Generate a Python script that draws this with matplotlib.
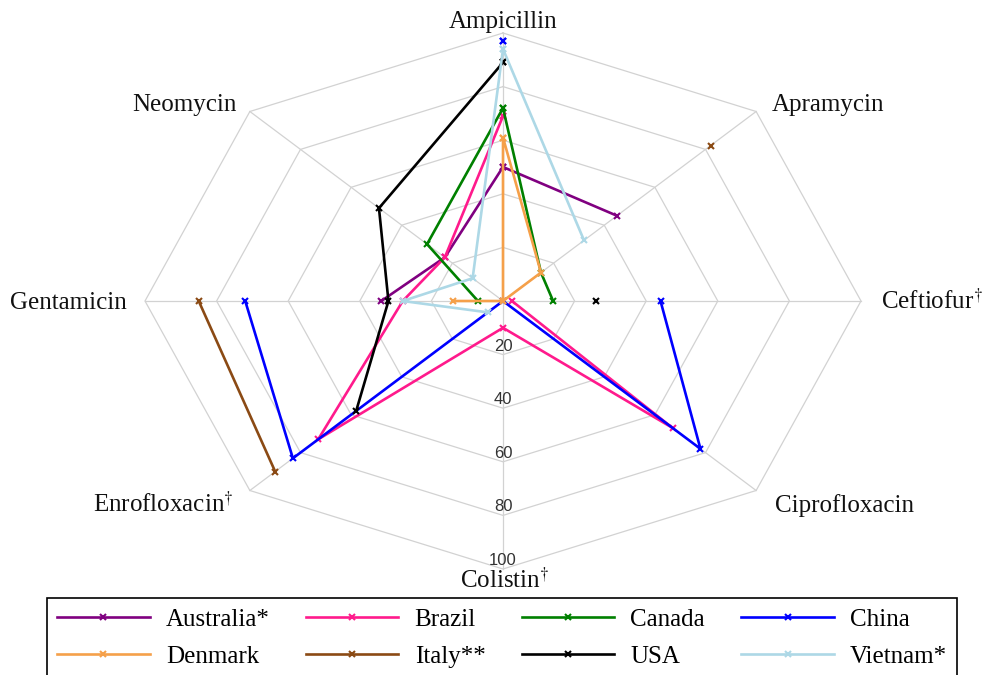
import numpy as np
import matplotlib.pyplot as plt

plt.rcParams['mathtext.fontset'] = 'stix'

# antibiotics, clockwise from the top
drugs = ["Ampicillin", "Apramycin", "Ceftiofur", "Ciprofloxacin",
         "Colistin", "Enrofloxacin", "Gentamicin", "Neomycin"]
dagger = [False, False, True, False, True, True, False, False]

nan = np.nan
australia = [50, 45, nan, nan, nan, nan, 34, 23]
brazil = [69, nan, 2.5, 67, 10, 73, 28, 23]
canada = [72, 15, 14, nan, nan, nan, 7, 30]
china = [97, nan, 44, 78, 0, 83, 72, nan]
denmark = [61, 15, 0, nan, nan, nan, 14, 0]
italy = [nan, 82, nan, nan, nan, 90, 85, nan]
usa = [89, nan, 26, nan, nan, 58, 32, 49]
vietnam = [94, 32, nan, nan, nan, 6, 28, 12]

countries = ["Australia*", "Brazil", "Canada", "China",
             "Denmark", "Italy**", "USA", "Vietnam*"]
values = [australia, brazil, canada, china, denmark, italy, usa, vietnam]
colors = ["#800080", "#ff1a8c", "#008000", "#0000ff",
          "#f5a04a", "#8b4a14", "#000000", "#add8e6"]

rings = [20, 40, 60, 80, 100]

ang = np.radians(np.arange(len(drugs)) * 360 / len(drugs))
ang_c = np.append(ang, ang[0])


def to_xy(r, a):
    r = np.asarray(r, dtype=float)
    return r * np.sin(a), r * np.cos(a)


fig = plt.figure(figsize=(9.82, 6.75), dpi=100)
ax = fig.add_axes([145 / 982, 106 / 675, 716 / 982, 536 / 675])
ax.set_xlim(-100, 100)
ax.set_ylim(-100, 100)
ax.axis('off')

# grid
grid_c = "#d2d2d2"
for rv in rings:
    gx, gy = to_xy(np.full(len(ang_c), rv), ang_c)
    ax.plot(gx, gy, color=grid_c, lw=0.9, zorder=1, clip_on=False)
for a in ang:
    sx, sy = to_xy([0, 100], a)
    ax.plot(sx, sy, color=grid_c, lw=0.9, zorder=1, clip_on=False)

# radial labels on the Colistin spoke
for rv in rings:
    ax.annotate(str(rv), (0, -rv), xytext=(0, 1), textcoords='offset pixels',
                ha='center', va='bottom', fontsize=12, color='#333333',
                family='Liberation Sans', zorder=2)

# series
handles = []
for name, vals, col in zip(countries, values, colors):
    v = np.append(vals, vals[0])
    px, py = to_xy(v, ang_c)
    h, = ax.plot(px, py, color=col, lw=1.9, marker='x', ms=5, mew=1.5,
                 label=name, zorder=3, clip_on=False)
    handles.append(h)

# axis labels (offsets in pixels from the outer vertex)
offsets = [(0, 5, 'center'), (16, 0, 'left'), (20, -8, 'left'),
           (19, -21, 'left'), (2, -19, 'center'), (-16, -21, 'right'),
           (-18, -8, 'right'), (-13, 0, 'right')]
for name, dg, a, (dx, dy, ha) in zip(drugs, dagger, ang, offsets):
    lx, ly = to_xy(100, a)
    txt = name + (r"$^{\dagger}$" if dg else "")
    ax.annotate(txt, (lx, ly), xytext=(dx, dy), textcoords='offset pixels',
                ha=ha, va='baseline', fontsize=18, family='Liberation Serif',
                color='#111111')

# legend, filled row by row
order = [0, 4, 1, 5, 2, 6, 3, 7]
leg = fig.legend([handles[i] for i in order], [countries[i] for i in order],
                 loc='upper left', bbox_to_anchor=(47 / 982, 1 - 598 / 675),
                 bbox_transform=fig.transFigure, ncol=4, frameon=True,
                 fancybox=False, framealpha=1, edgecolor='black',
                 borderaxespad=0, handlelength=3.7, handletextpad=0.65,
                 columnspacing=1.45, labelspacing=0.6,
                 prop={'family': 'Liberation Serif', 'size': 18})
leg.get_frame().set_linewidth(1.2)

fig.savefig("out.png", dpi=100)
